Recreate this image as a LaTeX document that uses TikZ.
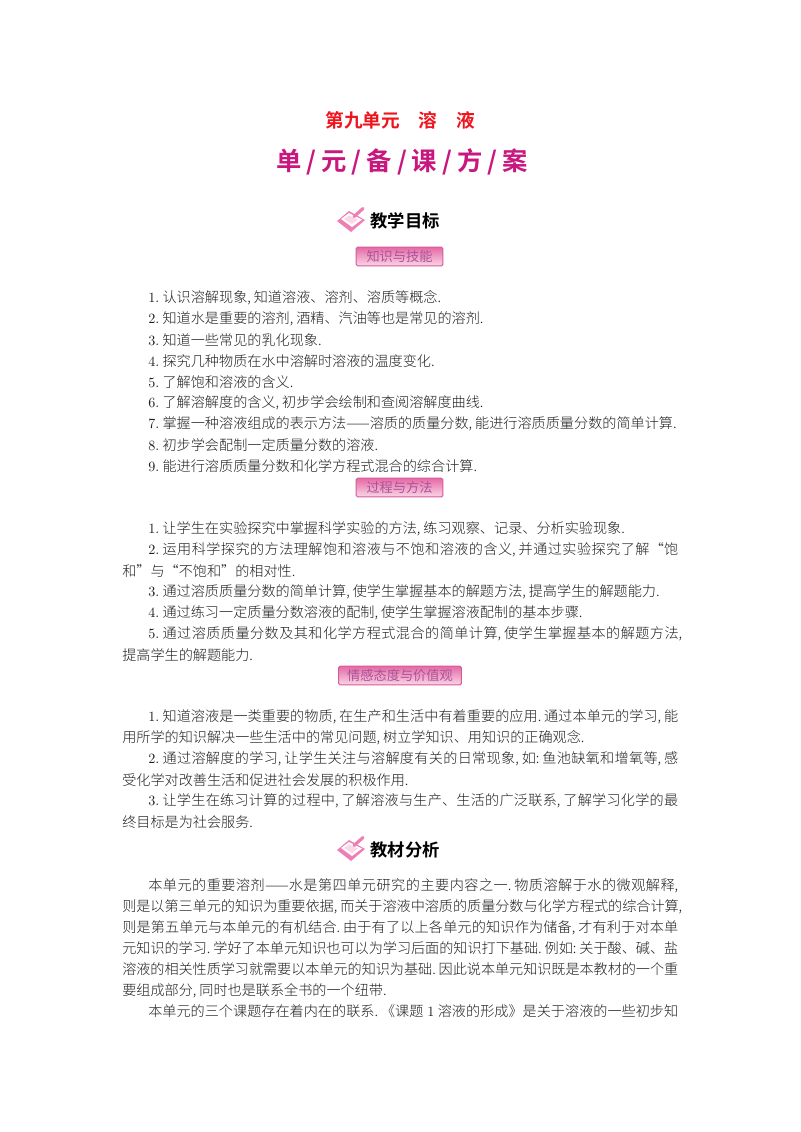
\documentclass[tikz,border=0pt]{standalone}
\usepackage{fontspec}
\newfontfamily\cjk{Noto Sans CJK SC Light}
\newfontfamily\cjkmid{Noto Sans CJK SC}
\newfontfamily\cjkbold{Noto Sans CJK SC Bold}
\XeTeXlinebreaklocale "zh"
\XeTeXlinebreakskip=0pt plus 3pt minus 0.6pt
% Запятая и точка шире, чем в шрифте
\XeTeXinterchartokenstate=1
\XeTeXcharclass`\,=5
\XeTeXcharclass`\.=5
\XeTeXcharclass`\:=5
\XeTeXinterchartoks 5 0 = {\hskip 2.2pt\relax}
\definecolor{titlered}{HTML}{F0141E}
\definecolor{plan}{HTML}{C8177F}
\definecolor{badgeedge}{HTML}{D45C9C}
\definecolor{badgetop}{HTML}{E669A5}
\definecolor{badgemid}{HTML}{F6B4D2}
\definecolor{badgeink}{HTML}{A8549A}
\definecolor{bookpink}{HTML}{EE7FB4}
\newcommand{\fullline}[2][417pt]{\vbox{\hsize=#1\relax\parindent=0pt\parfillskip=0pt\tolerance=10000\hbadness=10000\relax #2\par}}
\newcommand{\indentline}[2][397.5pt]{\fullline[#1]{#2}}
\newcommand{\num}[1]{{\rmfamily #1}\hskip 2.5pt\relax}
\newcommand{\slashgap}{\hspace{3.8pt}/\hspace{3.8pt}}
\tikzset{
	textline/.style={anchor=west, inner sep=0pt, font=\cjk\fontsize{10.6pt}{12pt}\selectfont, text=black!88},
	headline/.style={inner sep=0pt, font=\cjkbold\fontsize{13pt}{15pt}\selectfont},
	badge/.style={draw=badgeedge, line width=0.7pt, rounded corners=1pt, inner sep=0pt, minimum height=14pt,
		top color=badgetop, middle color=badgemid, bottom color=badgemid!55,
		text=badgeink, font=\cjkmid\fontsize{9.9pt}{12pt}\selectfont},
	noteicon/.pic={
		\fill[bookpink] (-1,14) -- (11,4) -- (27,13) -- (13,25) -- cycle; % Обложка
		\fill[white] (3,12) -- (11,6) -- (24,12.5) -- (14,20) -- cycle; % Страница
		\fill[bookpink!30] (6,12) -- (11,8.5) -- (20,12.5) -- (14,17) -- cycle;
		\draw[bookpink, line width=2.4pt, line cap=round] (16,9.5) -- (25,1.5); % Карандаш
	}
}

\begin{document}
\begin{tikzpicture}[x=0.75pt, y=-0.75pt]
	\useasboundingbox (0, 0) rectangle (800, 1132);

	% Заголовки
	\node[font=\cjkbold\fontsize{14pt}{16pt}\selectfont, text=titlered, inner sep=0pt] (unit) at (400, 120) {第九单元\hspace{14pt}溶\hspace{14pt}液};
	\node[font=\cjkbold\fontsize{19pt}{22pt}\selectfont, text=plan, inner sep=0pt] (plan) at (402, 162) {单\slashgap 元\slashgap 备\slashgap 课\slashgap 方\slashgap 案};

	% Цели
	\pic at (338, 207) {noteicon};
	\node[headline] (goal) at (405, 221) {教学目标};
	\node[badge, minimum width=65pt] (skill) at (399.5, 256.5) {知识与技能};

	\node[textline] (skill1) at (148, 298) {\num{1.}认识溶解现象,知道溶液、溶剂、溶质等概念.};
	\node[textline] (skill2) at (148, 319) {\num{2.}知道水是重要的溶剂,酒精、汽油等也是常见的溶剂.};
	\node[textline] (skill3) at (148, 340) {\num{3.}知道一些常见的乳化现象.};
	\node[textline] (skill4) at (148, 361) {\num{4.}探究几种物质在水中溶解时溶液的温度变化.};
	\node[textline] (skill5) at (148, 382) {\num{5.}了解饱和溶液的含义.};
	\node[textline] (skill6) at (148, 403) {\num{6.}了解溶解度的含义,初步学会绘制和查阅溶解度曲线.};
	\node[textline] (skill7) at (148, 424) {\num{7.}掌握一种溶液组成的表示方法——溶质的质量分数,能进行溶质质量分数的简单计算.};
	\node[textline] (skill8) at (148, 445) {\num{8.}初步学会配制一定质量分数的溶液.};
	\node[textline] (skill9) at (148, 466) {\num{9.}能进行溶质质量分数和化学方程式混合的综合计算.};

	\node[badge, minimum width=65pt] (method) at (399.5, 487.5) {过程与方法};

	\node[textline] (method1) at (148, 529) {\num{1.}让学生在实验探究中掌握科学实验的方法,练习观察、记录、分析实验现象.};
	\node[textline] (method2) at (148, 550) {\indentline{\num{2.}运用科学探究的方法理解饱和溶液与不饱和溶液的含义,并通过实验探究了解“饱}};
	\node[textline] (method2b) at (122, 571) {和”与“不饱和”的相对性.};
	\node[textline] (method3) at (148, 592) {\num{3.}通过溶质质量分数的简单计算,使学生掌握基本的解题方法,提高学生的解题能力.};
	\node[textline] (method4) at (148, 613) {\num{4.}通过练习一定质量分数溶液的配制,使学生掌握溶液配制的基本步骤.};
	\node[textline] (method5) at (148, 634) {\indentline[400.5pt]{\num{5.}通过溶质质量分数及其和化学方程式混合的简单计算,使学生掌握基本的解题方法,}};
	\node[textline] (method5b) at (122, 655) {提高学生的解题能力.};

	\node[badge, minimum width=92pt] (value) at (400, 675.5) {情感态度与价值观};

	\node[textline] (value1) at (148, 717) {\indentline{\num{1.}知道溶液是一类重要的物质,在生产和生活中有着重要的应用.通过本单元的学习,能}};
	\node[textline] (value1b) at (122, 738) {用所学的知识解决一些生活中的常见问题,树立学知识、用知识的正确观念.};
	\node[textline] (value2) at (148, 759) {\indentline{\num{2.}通过溶解度的学习,让学生关注与溶解度有关的日常现象,如:鱼池缺氧和增氧等,感}};
	\node[textline] (value2b) at (122, 780) {受化学对改善生活和促进社会发展的积极作用.};
	\node[textline] (value3) at (148, 801) {\indentline{\num{3.}让学生在练习计算的过程中,了解溶液与生产、生活的广泛联系,了解学习化学的最}};
	\node[textline] (value3b) at (122, 822) {终目标是为社会服务.};

	% Анализ
	\pic at (338, 836) {noteicon};
	\node[headline] (book) at (405, 850) {教材分析};

	\node[textline] (book1) at (148, 885.5) {\indentline{本单元的重要溶剂——水是第四单元研究的主要内容之一.物质溶解于水的微观解释,}};
	\node[textline] (book2) at (122, 906.5) {\fullline[420pt]{则是以第三单元的知识为重要依据,而关于溶液中溶质的质量分数与化学方程式的综合计算,}};
	\node[textline] (book3) at (122, 927.5) {\fullline{则是第五单元与本单元的有机结合.由于有了以上各单元的知识作为储备,才有利于对本单}};
	\node[textline] (book4) at (122, 948.5) {\fullline{元知识的学习.学好了本单元知识也可以为学习后面的知识打下基础.例如:关于酸、碱、盐}};
	\node[textline] (book5) at (122, 969.5) {\fullline{溶液的相关性质学习就需要以本单元的知识为基础.因此说本单元知识既是本教材的一个重}};
	\node[textline] (book6) at (122, 990.5) {要组成部分,同时也是联系全书的一个纽带.};
	\node[textline] (book7) at (148, 1011.5) {\indentline{本单元的三个课题存在着内在的联系.《课题\hskip 3pt\relax\num{1}溶液的形成》是关于溶液的一些初步知}};
\end{tikzpicture}
\end{document}
